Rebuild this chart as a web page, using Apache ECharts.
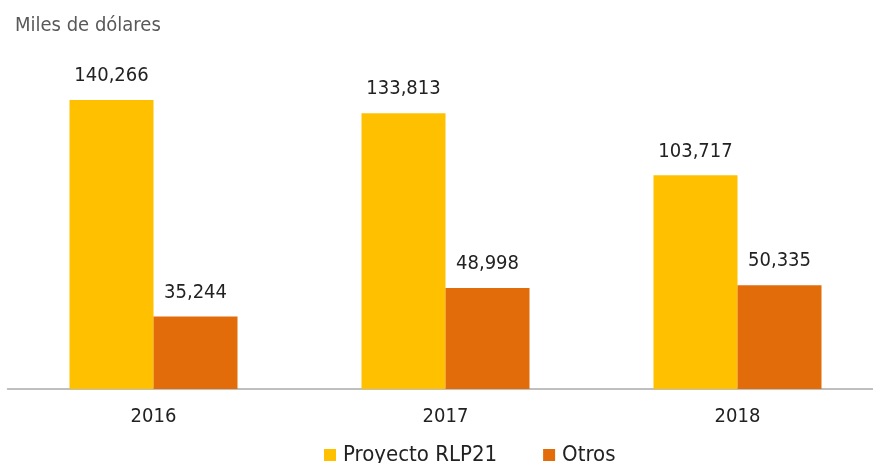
<!DOCTYPE html>
<html>
<head>
<meta charset="utf-8">
<script src="https://cdn.jsdelivr.net/npm/echarts@6/dist/echarts.min.js"></script>
<style>
  html, body { margin: 0; padding: 0; background: #fff; }
  #chart { width: 873px; height: 463px; }
</style>
</head>
<body>
<div id="chart"></div>
<script>
// datos
const years = ["2016", "2017", "2018"];
const proyecto = [140266, 133813, 103717];
const otros = [35244, 48998, 50335];

const colorProyecto = "#FFC000";
const colorOtros = "#E36C0A";
const fontFam = "'DejaVu Sans Condensed', 'DejaVu Sans', sans-serif";

const chart = echarts.init(document.getElementById("chart"));

const labelStyle = {
  show: true,
  position: "top",
  distance: 14,
  color: "#222",
  fontSize: 20,
  fontFamily: fontFam,
  formatter: (p) => p.value.toLocaleString("en-US"),
};

chart.setOption({
  animation: false,
  title: {
    text: "Miles de dólares",
    left: 10,
    top: 11,
    textStyle: { color: "#595959", fontSize: 20, fontWeight: "normal", fontFamily: fontFam },
  },
  legend: {
    data: ["Proyecto RLP21", "Otros"],
    left: 319,
    top: 439,
    itemWidth: 12,
    itemHeight: 12,
    itemGap: 46,
    icon: "rect",
    textStyle: { color: "#222", fontSize: 22, fontFamily: fontFam, padding: [0, 0, 0, 2] },
  },
  grid: {
    left: 7.5,
    width: 876,
    top: 100,
    bottom: 74,
    containLabel: false,
    outerBoundsMode: "none",
  },
  xAxis: {
    type: "category",
    data: years,
    axisTick: { show: false },
    axisLine: { lineStyle: { color: "#aaa", width: 1.5 } },
    axisLabel: { color: "#222", fontSize: 20, fontFamily: fontFam, margin: 18 },
  },
  yAxis: {
    type: "value",
    min: 0,
    max: (v) => v.max,
    show: false,
    splitLine: { show: false },
  },
  series: [
    {
      name: "Proyecto RLP21",
      type: "bar",
      data: proyecto,
      barWidth: 84,
      barGap: "0%",
      itemStyle: { color: colorProyecto },
      label: labelStyle,
    },
    {
      name: "Otros",
      type: "bar",
      data: otros,
      barWidth: 84,
      barGap: "0%",
      itemStyle: { color: colorOtros },
      label: labelStyle,
    },
  ],
});

window.addEventListener("resize", () => {
  chart.resize();
});
</script>
</body>
</html>
